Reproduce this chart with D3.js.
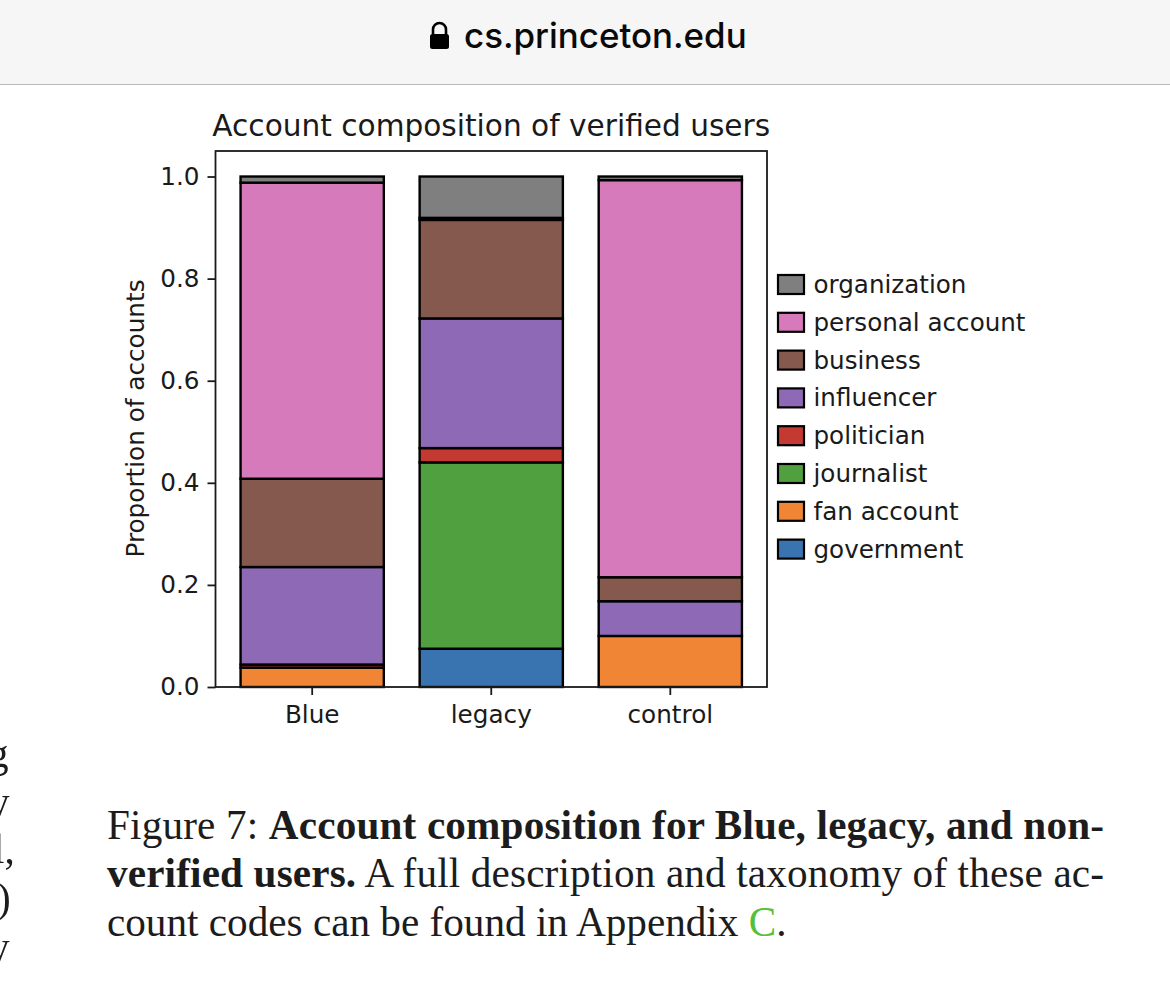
<!DOCTYPE html>
<html>
<head>
<meta charset="utf-8">
<script src="https://cdn.jsdelivr.net/npm/d3@7"></script>
<style>
  html, body { margin: 0; padding: 0; background: #fff; overflow: hidden; }
  svg { display: block; }
  .chart text { font-family: "DejaVu Sans", sans-serif; fill: #1a1a1a; }
  .caption text { font-family: "Liberation Serif", serif; fill: #1c1c1c; }
  .caption text.stray { filter: grayscale(1); }
</style>
</head>
<body>
<script>
const categories = ["Blue", "legacy", "control"];
const seriesNames = ["government", "fan account", "journalist", "politician", "influencer", "business", "personal account", "organization"];
const government = [0, 0.075, 0];
const fanAccount = [0.038, 0, 0.1];
const journalist = [0, 0.365, 0];
const politician = [0.006, 0.028, 0];
const influencer = [0.191, 0.254, 0.068];
const business = [0.173, 0.193, 0.047];
const personalAccount = [0.58, 0.004, 0.778];
const organization = [0.012, 0.081, 0.007];
const seriesValues = [government, fanAccount, journalist, politician, influencer, business, personalAccount, organization];
const seriesColors = ["#3a74b0", "#f08535", "#51a040", "#c43a32", "#8e69b5", "#85594e", "#d67abc", "#7f7f7f"];
const yTicks = [0, 0.2, 0.4, 0.6, 0.8, 1.0];

const captionLines = [
  {y: 838.5, parts: [["Figure 7: ", 400], ["Account composition for Blue, legacy, and non-", 700]], justify: true},
  {y: 886.5, parts: [["verified users.", 700], [" A full description and taxonomy of these ac-", 400]], justify: true},
  {y: 935.5, parts: [["count codes can be found in Appendix ", 400], ["C", 400, "#56c03c"], [".", 400]], justify: false}
];
// clipped letters of the neighbouring column
const strayLetters = [["g", 767, -12], ["y", 815, -11], ["l,", 863, -7], [")", 912, -3], ["y", 960, -11]];

const width = 1170, height = 981;
const margin = {top: 151, right: 403, bottom: 294, left: 215.5};

const svg = d3.select("body").append("svg")
  .attr("width", width)
  .attr("height", height);

// browser bar
svg.append("rect").attr("width", width).attr("height", 84).attr("fill", "#f6f6f6");
svg.append("line").attr("x1", 0).attr("x2", width).attr("y1", 84.5).attr("y2", 84.5).attr("stroke", "#b8b8b8").attr("stroke-width", 1);
svg.append("path")
  .attr("d", "M433 35 v-5.5 a6.5 6.5 0 0 1 13 0 v5.5")
  .attr("fill", "none").attr("stroke", "#000").attr("stroke-width", 2.6);
svg.append("rect").attr("x", 430).attr("y", 34).attr("width", 19).attr("height", 15).attr("rx", 2.5).attr("fill", "#000");
svg.append("text").attr("x", 464).attr("y", 48)
  .style("font-family", "Inter, Roboto, sans-serif").style("font-size", "34.9px").style("font-weight", 500)
  .attr("fill", "#0a0a0a").text("cs.princeton.edu");

const chart = svg.append("g").attr("class", "chart");

const x = d3.scaleBand()
  .domain(categories)
  .range([margin.left, width - margin.right])
  .paddingInner(0.2)
  .paddingOuter(0.14);

const y = d3.scaleLinear()
  .domain([0, 1.05])
  .range([height - margin.bottom, margin.top]);

const rows = categories.map((c, i) => {
  const row = {category: c};
  seriesNames.forEach((s, j) => { row[s] = seriesValues[j][i]; });
  return row;
});
const stacked = d3.stack().keys(seriesNames)(rows);

chart.selectAll("g.layer")
  .data(stacked)
  .join("g")
  .attr("class", "layer")
  .attr("fill", (d, i) => seriesColors[i])
  .selectAll("rect")
  .data(d => d)
  .join("rect")
  .attr("x", d => x(d.data.category))
  .attr("width", x.bandwidth())
  .attr("y", d => y(d[1]))
  .attr("height", d => y(d[0]) - y(d[1]))
  .attr("stroke", "#000")
  .attr("stroke-width", 2.4);

// axes
const xAxis = chart.append("g")
  .attr("transform", "translate(0," + (height - margin.bottom) + ")")
  .call(d3.axisBottom(x).tickSize(8).tickPadding(10.5));
const yAxis = chart.append("g")
  .attr("transform", "translate(" + margin.left + ",0)")
  .call(d3.axisLeft(y).tickValues(yTicks).tickFormat(d3.format(".1f")).tickSize(8).tickPadding(8));
[xAxis, yAxis].forEach(a => {
  a.select(".domain").remove();
  a.selectAll("line").attr("stroke", "#1a1a1a").attr("stroke-width", 1.8);
  a.selectAll("text").style("font-size", "24.7px").attr("fill", "#1a1a1a");
});

chart.append("rect")
  .attr("x", margin.left).attr("y", margin.top)
  .attr("width", width - margin.left - margin.right)
  .attr("height", height - margin.top - margin.bottom)
  .attr("fill", "none").attr("stroke", "#1a1a1a").attr("stroke-width", 1.8);

chart.append("text")
  .attr("x", (margin.left + width - margin.right) / 2).attr("y", 135.5)
  .attr("text-anchor", "middle").style("font-size", "29.6px")
  .text("Account composition of verified users");

chart.append("text")
  .attr("transform", "translate(144,418.5) rotate(-90)")
  .attr("text-anchor", "middle").style("font-size", "24.7px")
  .text("Proportion of accounts");

// legend, top of the stack first
const legend = chart.selectAll("g.legend")
  .data(seriesNames.map((s, i) => ({name: s, color: seriesColors[i]})).reverse())
  .join("g")
  .attr("class", "legend")
  .attr("transform", (d, i) => "translate(778," + (284.5 + i * 37.8) + ")");
legend.append("rect")
  .attr("x", 0).attr("y", -9.5).attr("width", 26).attr("height", 19)
  .attr("fill", d => d.color).attr("stroke", "#000").attr("stroke-width", 2.2);
legend.append("text")
  .attr("x", 35.5).attr("y", 8.5)
  .style("font-size", "24.6px")
  .text(d => d.name);

// caption
const caption = svg.append("g").attr("class", "caption");
captionLines.forEach(line => {
  const t = caption.append("text")
    .attr("x", 107).attr("y", line.y)
    .style("font-size", "41.2px");
  if (line.justify) t.attr("textLength", 997).attr("lengthAdjust", "spacing");
  line.parts.forEach(p => {
    t.append("tspan")
      .attr("font-weight", p[1])
      .attr("fill", p[2] || null)
      .text(p[0]);
  });
});
caption.selectAll("text.stray")
  .data(strayLetters)
  .join("text")
  .attr("class", "stray")
  .attr("x", d => d[2])
  .attr("y", d => d[1])
  .style("font-size", "41.2px")
  .text(d => d[0]);
</script>
</body>
</html>
